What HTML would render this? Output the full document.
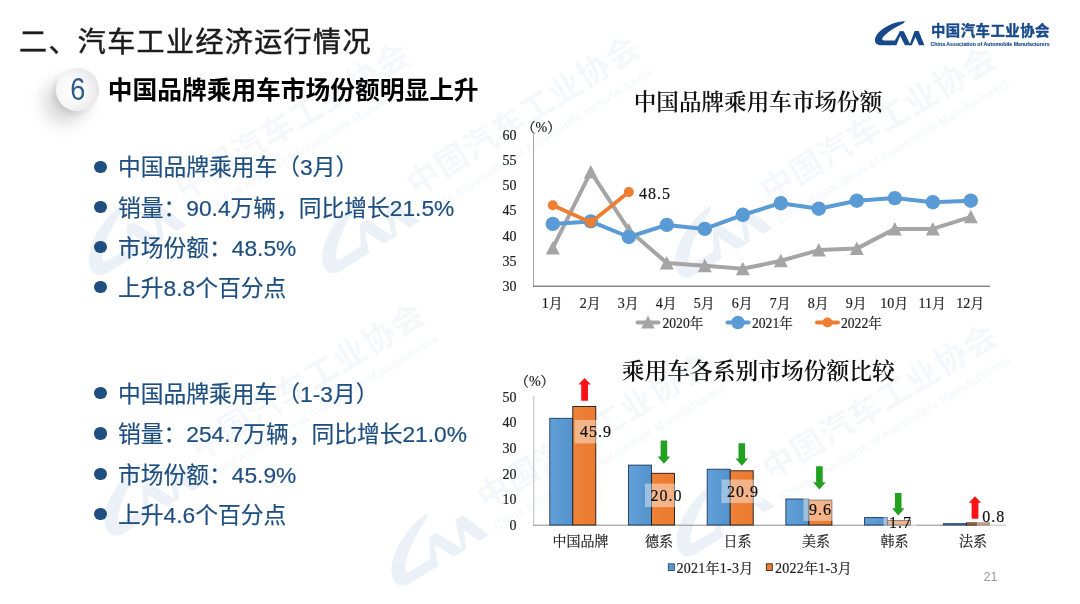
<!DOCTYPE html>
<html lang="zh-CN">
<head>
<meta charset="utf-8">
<title>汽车工业经济运行情况</title>
<style>
html,body{margin:0;padding:0;background:#fff;}
body{width:1080px;height:604px;position:relative;overflow:hidden;font-family:"Liberation Sans","Noto Sans CJK SC",sans-serif;}
.abs{position:absolute;white-space:nowrap;}
#title{left:19px;top:23.2px;font-size:28px;line-height:40px;letter-spacing:1.4px;color:#1c1c1c;-webkit-text-stroke:0.5px #1c1c1c;}
#num{left:55.6px;top:67.8px;width:43.4px;height:43.4px;border-radius:50%;
 background:radial-gradient(circle at 38% 52%,#ffffff 0%,#f8f8f8 40%,#e9e9e9 70%,#d2d2d2 100%);
 box-shadow:-13px 13px 17px rgba(0,0,0,0.15), -3px 3px 6px rgba(0,0,0,0.10);
 text-align:center;line-height:43.4px;font-size:28px;color:#2d5b8b;}
#num span{display:inline-block;transform:scale(0.97,1.1);transform-origin:50% 58%;}
#head{left:107.8px;top:73.5px;font-size:24.72px;line-height:34px;font-weight:700;color:#000;}
.bl{left:118px;font-size:22.75px;line-height:32px;color:#1f4f80;-webkit-text-stroke:0.2px #1f4f80;}
.dot{position:absolute;width:12.2px;height:12.2px;border-radius:50%;background:#1f4f80;left:94.4px;}
.ct{font-family:"Liberation Serif","Noto Serif CJK SC",serif;font-weight:600;line-height:30px;color:#111;text-align:center;width:400px;}
#pg{left:983.5px;top:569px;font-size:12.5px;line-height:16px;color:#9a9a9a;}
</style>
</head>
<body>
<svg class="abs" style="left:0;top:0;pointer-events:none" width="1080" height="604" viewBox="0 0 1080 604">
<g opacity="0.27" fill="#b9cbe4">
<g transform="translate(190.6 180) rotate(-31.2) scale(2.257) translate(-938.4 -30.2)">
<g transform="translate(926.5 46.3) scale(0.94) translate(-924.4 -45.3)">
<path d="M904.9 21C896 21.8 888 25 882 29.5C877 33.2 874.8 37.5 875 40.8C875.2 43.8 877.8 45.3 881.3 45.3L896.4 45.3L902 31.3L900 31.3L894.8 40.4L884 40.4C881.8 40.4 881.6 39.3 882.8 37.6C886.5 32.6 894 27.6 903.6 23.2Z"/>
<path d="M899.6 31.3L903.8 31.3L910.6 45.3L904.9 45.3L900 35.5Z"/>
<path d="M914.6 30.9L918.7 30.9L924.4 45.3L919 45.3L915.4 37L911.9 45.3L909.4 45.3Z"/>
</g>
<g opacity="0.55">
<text x="931" y="36.2" font-family='"Liberation Sans","Noto Sans CJK SC",sans-serif' font-weight="700" font-size="14.4" textLength="118.5" lengthAdjust="spacing">中国汽车工业协会</text>
<text x="930.6" y="46.4" font-family='"Liberation Sans","Noto Sans CJK SC",sans-serif' font-weight="700" font-size="5.3" textLength="119" lengthAdjust="spacingAndGlyphs">China Association of Automobile Manufacturers</text>
</g>
</g>
<g transform="translate(422.7 176.4) rotate(-32.3) scale(2.257) translate(-938.4 -30.2)">
<g transform="translate(926.5 46.3) scale(0.94) translate(-924.4 -45.3)">
<path d="M904.9 21C896 21.8 888 25 882 29.5C877 33.2 874.8 37.5 875 40.8C875.2 43.8 877.8 45.3 881.3 45.3L896.4 45.3L902 31.3L900 31.3L894.8 40.4L884 40.4C881.8 40.4 881.6 39.3 882.8 37.6C886.5 32.6 894 27.6 903.6 23.2Z"/>
<path d="M899.6 31.3L903.8 31.3L910.6 45.3L904.9 45.3L900 35.5Z"/>
<path d="M914.6 30.9L918.7 30.9L924.4 45.3L919 45.3L915.4 37L911.9 45.3L909.4 45.3Z"/>
</g>
<g opacity="0.55">
<text x="931" y="36.2" font-family='"Liberation Sans","Noto Sans CJK SC",sans-serif' font-weight="700" font-size="14.4" textLength="118.5" lengthAdjust="spacing">中国汽车工业协会</text>
<text x="930.6" y="46.4" font-family='"Liberation Sans","Noto Sans CJK SC",sans-serif' font-weight="700" font-size="5.3" textLength="119" lengthAdjust="spacingAndGlyphs">China Association of Automobile Manufacturers</text>
</g>
</g>
<g transform="translate(776.9 182.9) rotate(-31.1) scale(2.257) translate(-938.4 -30.2)">
<g transform="translate(926.5 46.3) scale(0.94) translate(-924.4 -45.3)">
<path d="M904.9 21C896 21.8 888 25 882 29.5C877 33.2 874.8 37.5 875 40.8C875.2 43.8 877.8 45.3 881.3 45.3L896.4 45.3L902 31.3L900 31.3L894.8 40.4L884 40.4C881.8 40.4 881.6 39.3 882.8 37.6C886.5 32.6 894 27.6 903.6 23.2Z"/>
<path d="M899.6 31.3L903.8 31.3L910.6 45.3L904.9 45.3L900 35.5Z"/>
<path d="M914.6 30.9L918.7 30.9L924.4 45.3L919 45.3L915.4 37L911.9 45.3L909.4 45.3Z"/>
</g>
<g opacity="0.55">
<text x="931" y="36.2" font-family='"Liberation Sans","Noto Sans CJK SC",sans-serif' font-weight="700" font-size="14.4" textLength="118.5" lengthAdjust="spacing">中国汽车工业协会</text>
<text x="930.6" y="46.4" font-family='"Liberation Sans","Noto Sans CJK SC",sans-serif' font-weight="700" font-size="5.3" textLength="119" lengthAdjust="spacingAndGlyphs">China Association of Automobile Manufacturers</text>
</g>
</g>
<g transform="translate(206 440.3) rotate(-31.4) scale(2.257) translate(-938.4 -30.2)">
<g transform="translate(926.5 46.3) scale(0.94) translate(-924.4 -45.3)">
<path d="M904.9 21C896 21.8 888 25 882 29.5C877 33.2 874.8 37.5 875 40.8C875.2 43.8 877.8 45.3 881.3 45.3L896.4 45.3L902 31.3L900 31.3L894.8 40.4L884 40.4C881.8 40.4 881.6 39.3 882.8 37.6C886.5 32.6 894 27.6 903.6 23.2Z"/>
<path d="M899.6 31.3L903.8 31.3L910.6 45.3L904.9 45.3L900 35.5Z"/>
<path d="M914.6 30.9L918.7 30.9L924.4 45.3L919 45.3L915.4 37L911.9 45.3L909.4 45.3Z"/>
</g>
<g opacity="0.55">
<text x="931" y="36.2" font-family='"Liberation Sans","Noto Sans CJK SC",sans-serif' font-weight="700" font-size="14.4" textLength="118.5" lengthAdjust="spacing">中国汽车工业协会</text>
<text x="930.6" y="46.4" font-family='"Liberation Sans","Noto Sans CJK SC",sans-serif' font-weight="700" font-size="5.3" textLength="119" lengthAdjust="spacingAndGlyphs">China Association of Automobile Manufacturers</text>
</g>
</g>
<g transform="translate(493 490) rotate(-31.5) scale(2.257) translate(-938.4 -30.2)">
<g transform="translate(926.5 46.3) scale(0.94) translate(-924.4 -45.3)">
<path d="M904.9 21C896 21.8 888 25 882 29.5C877 33.2 874.8 37.5 875 40.8C875.2 43.8 877.8 45.3 881.3 45.3L896.4 45.3L902 31.3L900 31.3L894.8 40.4L884 40.4C881.8 40.4 881.6 39.3 882.8 37.6C886.5 32.6 894 27.6 903.6 23.2Z"/>
<path d="M899.6 31.3L903.8 31.3L910.6 45.3L904.9 45.3L900 35.5Z"/>
<path d="M914.6 30.9L918.7 30.9L924.4 45.3L919 45.3L915.4 37L911.9 45.3L909.4 45.3Z"/>
</g>
<g opacity="0.55">
<text x="931" y="36.2" font-family='"Liberation Sans","Noto Sans CJK SC",sans-serif' font-weight="700" font-size="14.4" textLength="118.5" lengthAdjust="spacing">中国汽车工业协会</text>
<text x="930.6" y="46.4" font-family='"Liberation Sans","Noto Sans CJK SC",sans-serif' font-weight="700" font-size="5.3" textLength="119" lengthAdjust="spacingAndGlyphs">China Association of Automobile Manufacturers</text>
</g>
</g>
<g transform="translate(778.3 461.2) rotate(-31.3) scale(2.257) translate(-938.4 -30.2)">
<g transform="translate(926.5 46.3) scale(0.94) translate(-924.4 -45.3)">
<path d="M904.9 21C896 21.8 888 25 882 29.5C877 33.2 874.8 37.5 875 40.8C875.2 43.8 877.8 45.3 881.3 45.3L896.4 45.3L902 31.3L900 31.3L894.8 40.4L884 40.4C881.8 40.4 881.6 39.3 882.8 37.6C886.5 32.6 894 27.6 903.6 23.2Z"/>
<path d="M899.6 31.3L903.8 31.3L910.6 45.3L904.9 45.3L900 35.5Z"/>
<path d="M914.6 30.9L918.7 30.9L924.4 45.3L919 45.3L915.4 37L911.9 45.3L909.4 45.3Z"/>
</g>
<g opacity="0.55">
<text x="931" y="36.2" font-family='"Liberation Sans","Noto Sans CJK SC",sans-serif' font-weight="700" font-size="14.4" textLength="118.5" lengthAdjust="spacing">中国汽车工业协会</text>
<text x="930.6" y="46.4" font-family='"Liberation Sans","Noto Sans CJK SC",sans-serif' font-weight="700" font-size="5.3" textLength="119" lengthAdjust="spacingAndGlyphs">China Association of Automobile Manufacturers</text>
</g>
</g>
</g>
</svg>

<div id="title" class="abs">二、汽车工业经济运行情况</div>
<div id="num" class="abs"><span>6</span></div>
<div id="head" class="abs">中国品牌乘用车市场份额明显上升</div>

<span class="dot" style="top:160.6px"></span><div class="abs bl" style="top:151.3px">中国品牌乘用车（3月）</div>
<span class="dot" style="top:200.8px"></span><div class="abs bl" style="top:191.5px">销量：90.4万辆，同比增长21.5%</div>
<span class="dot" style="top:241.2px"></span><div class="abs bl" style="top:231.9px">市场份额：48.5%</div>
<span class="dot" style="top:281.3px"></span><div class="abs bl" style="top:272.0px">上升8.8个百分点</div>

<span class="dot" style="top:387.0px"></span><div class="abs bl" style="top:377.7px">中国品牌乘用车（1-3月）</div>
<span class="dot" style="top:427.4px"></span><div class="abs bl" style="top:418.1px">销量：254.7万辆，同比增长21.0%</div>
<span class="dot" style="top:467.8px"></span><div class="abs bl" style="top:458.5px">市场份额：45.9%</div>
<span class="dot" style="top:508.2px"></span><div class="abs bl" style="top:498.9px">上升4.6个百分点</div>

<div class="abs ct" style="left:558px;top:88px;font-size:22.6px">中国品牌乘用车市场份额</div>
<div class="abs ct" style="left:558.3px;top:357px;font-size:22.75px">乘用车各系别市场份额比较</div>

<svg class="abs" style="left:0;top:0" width="1080" height="604" viewBox="0 0 1080 604">
<defs>
<linearGradient id="gb" x1="0" y1="0" x2="1" y2="0"><stop offset="0" stop-color="#62a0d8"/><stop offset="1" stop-color="#5492cd"/></linearGradient>
<linearGradient id="go" x1="0" y1="0" x2="1" y2="0"><stop offset="0" stop-color="#ee8238"/><stop offset="1" stop-color="#ea7a2e"/></linearGradient>
</defs>
<path d="M533.5 134.5V286.2" stroke="#a6a6a6" stroke-width="1" fill="none"/><path d="M533 286.2H990" stroke="#4d4d4d" stroke-width="1" fill="none"/>
<g font-family='"Liberation Serif","Noto Serif CJK SC",serif' font-size="14" fill="#222" stroke="#222" stroke-width="0.2" text-anchor="end">
<text x="516.5" y="291.1">30</text>
<text x="516.5" y="265.9">35</text>
<text x="516.5" y="240.6">40</text>
<text x="516.5" y="215.3">45</text>
<text x="516.5" y="190.1">50</text>
<text x="516.5" y="164.8">55</text>
<text x="516.5" y="139.6">60</text>
</g>
<text x="541.3" y="132.3" text-anchor="middle" font-family='"Liberation Serif","Noto Serif CJK SC",serif' font-size="14" fill="#222" stroke="#222" stroke-width="0.2">（%）</text>
<polyline points="552.8,247.9 590.8,171.9 628.8,229.9 666.8,263 704.8,265.8 742.8,268.8 780.8,260.8 818.8,250.1 856.8,248.6 894.8,228.9 932.8,228.9 970.8,216.8" fill="none" stroke="#a5a5a5" stroke-width="4" stroke-linejoin="round" stroke-linecap="round"/>
<path d="M552.8 240.9L559.8 254.4H545.8Z" fill="#a5a5a5"/>
<path d="M590.8 164.9L597.8 178.4H583.8Z" fill="#a5a5a5"/>
<path d="M628.8 222.9L635.8 236.4H621.8Z" fill="#a5a5a5"/>
<path d="M666.8 256L673.8 269.5H659.8Z" fill="#a5a5a5"/>
<path d="M704.8 258.8L711.8 272.3H697.8Z" fill="#a5a5a5"/>
<path d="M742.8 261.8L749.8 275.3H735.8Z" fill="#a5a5a5"/>
<path d="M780.8 253.8L787.8 267.2H773.8Z" fill="#a5a5a5"/>
<path d="M818.8 243.1L825.8 256.6H811.8Z" fill="#a5a5a5"/>
<path d="M856.8 241.6L863.8 255.1H849.8Z" fill="#a5a5a5"/>
<path d="M894.8 221.9L901.8 235.4H887.8Z" fill="#a5a5a5"/>
<path d="M932.8 221.9L939.8 235.4H925.8Z" fill="#a5a5a5"/>
<path d="M970.8 209.8L977.8 223.3H963.8Z" fill="#a5a5a5"/>
<polyline points="552.8,223.9 590.8,221.4 628.8,237 666.8,224.9 704.8,228.9 742.8,214.8 780.8,203.2 818.8,208.7 856.8,200.7 894.8,198.1 932.8,202.2 970.8,200.7" fill="none" stroke="#5b9bd5" stroke-width="4" stroke-linejoin="round" stroke-linecap="round"/>
<circle cx="552.8" cy="223.9" r="7.2" fill="#5b9bd5"/>
<circle cx="590.8" cy="221.4" r="7.2" fill="#5b9bd5"/>
<circle cx="628.8" cy="237" r="7.2" fill="#5b9bd5"/>
<circle cx="666.8" cy="224.9" r="7.2" fill="#5b9bd5"/>
<circle cx="704.8" cy="228.9" r="7.2" fill="#5b9bd5"/>
<circle cx="742.8" cy="214.8" r="7.2" fill="#5b9bd5"/>
<circle cx="780.8" cy="203.2" r="7.2" fill="#5b9bd5"/>
<circle cx="818.8" cy="208.7" r="7.2" fill="#5b9bd5"/>
<circle cx="856.8" cy="200.7" r="7.2" fill="#5b9bd5"/>
<circle cx="894.8" cy="198.1" r="7.2" fill="#5b9bd5"/>
<circle cx="932.8" cy="202.2" r="7.2" fill="#5b9bd5"/>
<circle cx="970.8" cy="200.7" r="7.2" fill="#5b9bd5"/>
<polyline points="552.8,205.2 590.8,222.4 628.8,192.1" fill="none" stroke="#ed7d31" stroke-width="3.8" stroke-linejoin="round" stroke-linecap="round"/>
<circle cx="552.8" cy="205.2" r="5" fill="#ed7d31"/>
<circle cx="590.8" cy="222.4" r="5" fill="#ed7d31"/>
<circle cx="628.8" cy="192.1" r="5" fill="#ed7d31"/>
<text x="639" y="198.6" font-family='"Liberation Serif","Noto Serif CJK SC",serif' font-size="16" fill="#111" stroke="#111" stroke-width="0.2" letter-spacing="1">48.5</text>
<g font-family='"Liberation Serif","Noto Serif CJK SC",serif' font-size="14" fill="#222" stroke="#222" stroke-width="0.2" text-anchor="middle">
<text x="552.3" y="307.6">1月</text>
<text x="590.3" y="307.6">2月</text>
<text x="628.3" y="307.6">3月</text>
<text x="666.3" y="307.6">4月</text>
<text x="704.3" y="307.6">5月</text>
<text x="742.3" y="307.6">6月</text>
<text x="780.3" y="307.6">7月</text>
<text x="818.3" y="307.6">8月</text>
<text x="856.3" y="307.6">9月</text>
<text x="894.3" y="307.6">10月</text>
<text x="932.3" y="307.6">11月</text>
<text x="970.3" y="307.6">12月</text>
</g>
<path d="M637.5 322.5H658.5" stroke="#a5a5a5" stroke-width="3.9" stroke-linecap="round"/>
<path d="M648 315.8L654.8 328.6H641.2Z" fill="#a5a5a5"/>
<path d="M727.5 322.5H748.5" stroke="#5b9bd5" stroke-width="3.9" stroke-linecap="round"/>
<circle cx="738" cy="322.5" r="6.8" fill="#5b9bd5"/>
<path d="M817 322.5H838" stroke="#ed7d31" stroke-width="3.9" stroke-linecap="round"/>
<circle cx="827.5" cy="322.5" r="5" fill="#ed7d31"/>
<g font-family='"Liberation Serif","Noto Serif CJK SC",serif' font-size="13.6" fill="#222" stroke="#222" stroke-width="0.2">
<text x="662.5" y="327.6">2020年</text><text x="752" y="327.6">2021年</text><text x="841" y="327.6">2022年</text></g>
<path d="M533.75 396V525" stroke="#bdbdbd" stroke-width="1" fill="none"/><path d="M533 525.2H1006" stroke="#8c8c8c" stroke-width="1" fill="none"/>
<g font-family='"Liberation Serif","Noto Serif CJK SC",serif' font-size="14" fill="#222" stroke="#222" stroke-width="0.2" text-anchor="end">
<text x="516.5" y="530.1">0</text>
<text x="516.5" y="504.4">10</text>
<text x="516.5" y="478.7">20</text>
<text x="516.5" y="453">30</text>
<text x="516.5" y="427.3">40</text>
<text x="516.5" y="401.6">50</text>
</g>
<text x="534.8" y="386" text-anchor="middle" font-family='"Liberation Serif","Noto Serif CJK SC",serif' font-size="14" fill="#222" stroke="#222" stroke-width="0.2">（%）</text>
<rect x="549.8" y="418.3" width="23" height="106.7" fill="url(#gb)" stroke="#1c3a5e" stroke-width="0.9"/>
<rect x="572.8" y="406.5" width="23" height="118.5" fill="url(#go)" stroke="#1a1a1a" stroke-width="0.9"/>
<rect x="628.5" y="465.1" width="23" height="59.9" fill="url(#gb)" stroke="#1c3a5e" stroke-width="0.9"/>
<rect x="651.5" y="473.3" width="23" height="51.7" fill="url(#go)" stroke="#1a1a1a" stroke-width="0.9"/>
<rect x="707.2" y="469.2" width="23" height="55.8" fill="url(#gb)" stroke="#1c3a5e" stroke-width="0.9"/>
<rect x="730.2" y="470.8" width="23" height="54.2" fill="url(#go)" stroke="#1a1a1a" stroke-width="0.9"/>
<rect x="785.9" y="499" width="23" height="26" fill="url(#gb)" stroke="#1c3a5e" stroke-width="0.9"/>
<rect x="808.9" y="500.1" width="23" height="24.9" fill="url(#go)" stroke="#1a1a1a" stroke-width="0.9"/>
<rect x="864.6" y="517.5" width="23" height="7.5" fill="url(#gb)" stroke="#1c3a5e" stroke-width="0.9"/>
<rect x="887.6" y="520.6" width="23" height="4.4" fill="url(#go)" stroke="#1a1a1a" stroke-width="0.9"/>
<rect x="943.3" y="523.7" width="23" height="1.3" fill="url(#gb)" stroke="#1c3a5e" stroke-width="0.9"/>
<rect x="966.3" y="522.9" width="23" height="2.1" fill="url(#go)" stroke="#1a1a1a" stroke-width="0.9"/>
<rect x="574.6" y="419.9" width="42" height="23.5" fill="#fff" fill-opacity="0.42"/>
<text x="596.1" y="437.3" text-anchor="middle" font-family='"Liberation Serif","Noto Serif CJK SC",serif' font-size="16" fill="#111" stroke="#111" stroke-width="0.2" letter-spacing="1">45.9</text>
<rect x="645" y="483.6" width="42" height="23.5" fill="#fff" fill-opacity="0.42"/>
<text x="666.5" y="501" text-anchor="middle" font-family='"Liberation Serif","Noto Serif CJK SC",serif' font-size="16" fill="#111" stroke="#111" stroke-width="0.2" letter-spacing="1">20.0</text>
<rect x="721.5" y="479.6" width="42" height="23.5" fill="#fff" fill-opacity="0.42"/>
<text x="743" y="497" text-anchor="middle" font-family='"Liberation Serif","Noto Serif CJK SC",serif' font-size="16" fill="#111" stroke="#111" stroke-width="0.2" letter-spacing="1">20.9</text>
<rect x="803.5" y="497.4" width="33" height="23.5" fill="#fff" fill-opacity="0.42"/>
<text x="820.5" y="514.8" text-anchor="middle" font-family='"Liberation Serif","Noto Serif CJK SC",serif' font-size="16" fill="#111" stroke="#111" stroke-width="0.2" letter-spacing="1">9.6</text>
<rect x="883.5" y="510.2" width="33" height="23.5" fill="#fff" fill-opacity="0.42"/>
<text x="900.5" y="527.6" text-anchor="middle" font-family='"Liberation Serif","Noto Serif CJK SC",serif' font-size="16" fill="#111" stroke="#111" stroke-width="0.2" letter-spacing="1">1.7</text>
<rect x="976.8" y="504.6" width="33" height="23.5" fill="#fff" fill-opacity="0.42"/>
<text x="993.8" y="522" text-anchor="middle" font-family='"Liberation Serif","Noto Serif CJK SC",serif' font-size="16" fill="#111" stroke="#111" stroke-width="0.2" letter-spacing="1">0.8</text>
<path d="M584.6 378L590.8 384.4H588V400.7H581.2V384.4H578.4Z" fill="#fb1118"/>
<path d="M663.9 463.8L670.2 456.6H667.2V440.6H660.6V456.6H657.6Z" fill="#22a022"/>
<path d="M741.8 465.8L748.1 458.6H745.1V443.2H738.5V458.6H735.5Z" fill="#22a022"/>
<path d="M819.4 489.5L825.7 482.3H822.7V466.3H816.1V482.3H813.1Z" fill="#22a022"/>
<path d="M898.2 515.5L904.5 508.3H901.5V493H895V508.3H892Z" fill="#22a022"/>
<path d="M975 496.3L981.2 502.7H978.4V518.8H971.6V502.7H968.8Z" fill="#fb1118"/>
<g font-family='"Liberation Serif","Noto Serif CJK SC",serif' font-size="14" fill="#222" stroke="#222" stroke-width="0.2" text-anchor="middle">
<text x="580.5" y="546.3">中国品牌</text>
<text x="659" y="546.3">德系</text>
<text x="737.5" y="546.3">日系</text>
<text x="816" y="546.3">美系</text>
<text x="894.5" y="546.3">韩系</text>
<text x="973" y="546.3">法系</text>
</g>
<rect x="668.3" y="563.8" width="6" height="6.8" fill="#5b9bd5" stroke="#1c3a5e" stroke-width="0.8"/>
<rect x="766.3" y="563.8" width="6" height="6.8" fill="#ed7d31" stroke="#1a1a1a" stroke-width="0.8"/>
<g font-family='"Liberation Serif","Noto Serif CJK SC",serif' font-size="14" fill="#222" stroke="#222" stroke-width="0.2" letter-spacing="0.25"><text x="676.5" y="572.6">2021年1-3月</text><text x="775" y="572.6">2022年1-3月</text></g>
</svg>

<svg class="abs" style="left:868px;top:14px" width="200" height="44" viewBox="868 14 200 44">
<g fill="#17498a">
<path d="M904.9 21C896 21.8 888 25 882 29.5C877 33.2 874.8 37.5 875 40.8C875.2 43.8 877.8 45.3 881.3 45.3L896.4 45.3L902 31.3L900 31.3L894.8 40.4L884 40.4C881.8 40.4 881.6 39.3 882.8 37.6C886.5 32.6 894 27.6 903.6 23.2Z"/>
<path d="M899.6 31.3L903.8 31.3L910.6 45.3L904.9 45.3L900 35.5Z"/>
<path d="M914.6 30.9L918.7 30.9L924.4 45.3L919 45.3L915.4 37L911.9 45.3L909.4 45.3Z"/>
</g>
<text x="931" y="36.2" font-family='"Liberation Sans","Noto Sans CJK SC",sans-serif' font-weight="700" font-size="14.4" fill="#17498a" stroke="#17498a" stroke-width="0.4" textLength="118.5" lengthAdjust="spacing">中国汽车工业协会</text>
<text x="930.6" y="46.4" font-family='"Liberation Sans","Noto Sans CJK SC",sans-serif' font-weight="700" font-size="5.3" fill="#17498a" stroke="#17498a" stroke-width="0.12" textLength="119" lengthAdjust="spacingAndGlyphs">China Association of Automobile Manufacturers</text>
</svg>
<div id="pg" class="abs">21</div>

</body>
</html>
